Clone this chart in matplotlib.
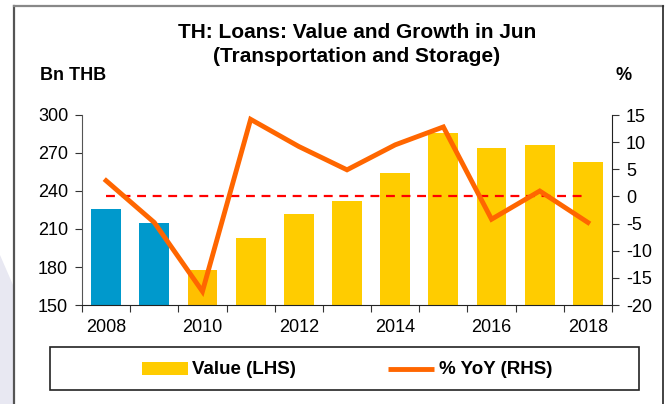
import matplotlib
matplotlib.use('Agg')
import matplotlib.pyplot as plt
from matplotlib.patches import Rectangle, Polygon
import numpy as np

plt.rcParams['font.family'] = ['Liberation Sans', 'DejaVu Sans']
plt.rcParams['axes.unicode_minus'] = False

years = [2008, 2009, 2010, 2011, 2012, 2013, 2014, 2015, 2016, 2017, 2018]
value_bn = [226, 215, 178, 203, 222, 232, 254, 286, 274, 276, 263]
yoy_pct = [2.9, -4.8, -17.5, 14.2, 9.2, 4.9, 9.5, 12.8, -4.2, 1.0, -4.8]
bar_colors = ['#0099CC', '#0099CC', '#FFC000'] + ['#FFCC00'] * 8
tick_years = [2008, 2010, 2012, 2014, 2016, 2018]

fig = plt.figure(figsize=(6.69, 4.04), dpi=100)
W, H = 669, 404

# page background: faint lavender shape on the left and frame
bg = fig.add_axes([0, 0, 1, 1], zorder=-10)
bg.set_xlim(0, W)
bg.set_ylim(H, 0)
bg.axis('off')
bg.add_patch(Polygon([(0, 255), (13, 285), (13, H), (0, H)],
                     closed=True, facecolor='#E8E8F2', edgecolor='none'))
bg.plot([14, 14], [6, H], color='#555555', lw=1.6)
bg.plot([14, 663], [6, 6], color='#888888', lw=1.6)
bg.plot([663, 663], [6, H], color='#222222', lw=1.2)

ax = fig.add_axes([82 / W, 1 - 305 / H, 530 / W, 190 / H])
x = np.arange(len(years))
ax.bar(x, np.array(value_bn) - 150, bottom=150, width=0.62, color=bar_colors, zorder=2)
ax.set_xlim(-0.5, len(years) - 0.5)
ax.set_ylim(150, 300)
ax.set_yticks(np.arange(150, 301, 30))

# category boundary ticks, labels every second year
ax.set_xticks(np.arange(-0.5, len(years), 1))
ax.set_xticklabels([])
ax.set_xticks([years.index(y) for y in tick_years], minor=True)
ax.set_xticklabels([str(y) for y in tick_years], minor=True)
ax.tick_params(axis='x', which='major', length=5, direction='out', color='#333333')
ax.tick_params(axis='x', which='minor', length=0, pad=10, labelsize=13)
ax.tick_params(axis='y', length=5, direction='out', labelsize=13, color='#333333', pad=5)

for s in ['top', 'right']:
    ax.spines[s].set_visible(False)
ax.spines['left'].set_color('#555555')
ax.spines['bottom'].set_color('#222222')

ax2 = ax.twinx()
ax2.set_ylim(-20, 15)
ax2.set_yticks(np.arange(-20, 16, 5))
ax2.tick_params(axis='y', length=5, direction='out', labelsize=13, color='#333333', pad=5)
for s in ['top', 'left', 'bottom']:
    ax2.spines[s].set_visible(False)
ax2.spines['right'].set_color('#222222')
ax2.plot([x[0], x[-1]], [0, 0], color='#FF0000', lw=1.6, ls=(0, (4, 3)), zorder=3)
ax2.plot(x, yoy_pct, color='#FF6600', lw=3.5, solid_joinstyle='miter', zorder=4)

fig.text(357 / W, 1 - 33 / H, 'TH: Loans: Value and Growth in Jun', ha='center', va='center',
         fontsize=15, fontweight='bold')
fig.text(357 / W, 1 - 57 / H, '(Transportation and Storage)', ha='center', va='center',
         fontsize=15, fontweight='bold')
fig.text(40 / W, 1 - 76 / H, 'Bn THB', ha='left', va='center', fontsize=13, fontweight='bold')
fig.text(624 / W, 1 - 76 / H, '%', ha='center', va='center', fontsize=13, fontweight='bold')

# legend box with its two entries
bg.add_patch(Rectangle((50, 347), 589, 43, facecolor='white', edgecolor='#222222', lw=1.2))
bg.add_patch(Rectangle((142, 362), 46, 13, facecolor='#FFCC00', edgecolor='none'))
bg.text(192, 369, 'Value (LHS)', ha='left', va='center', fontsize=13.5, fontweight='bold')
bg.plot([388, 434], [369, 369], color='#FF6600', lw=3.5, solid_capstyle='butt')
bg.text(439, 369, '% YoY (RHS)', ha='left', va='center', fontsize=13.5, fontweight='bold')

fig.savefig('out.png', dpi=100)
plt.close(fig)
